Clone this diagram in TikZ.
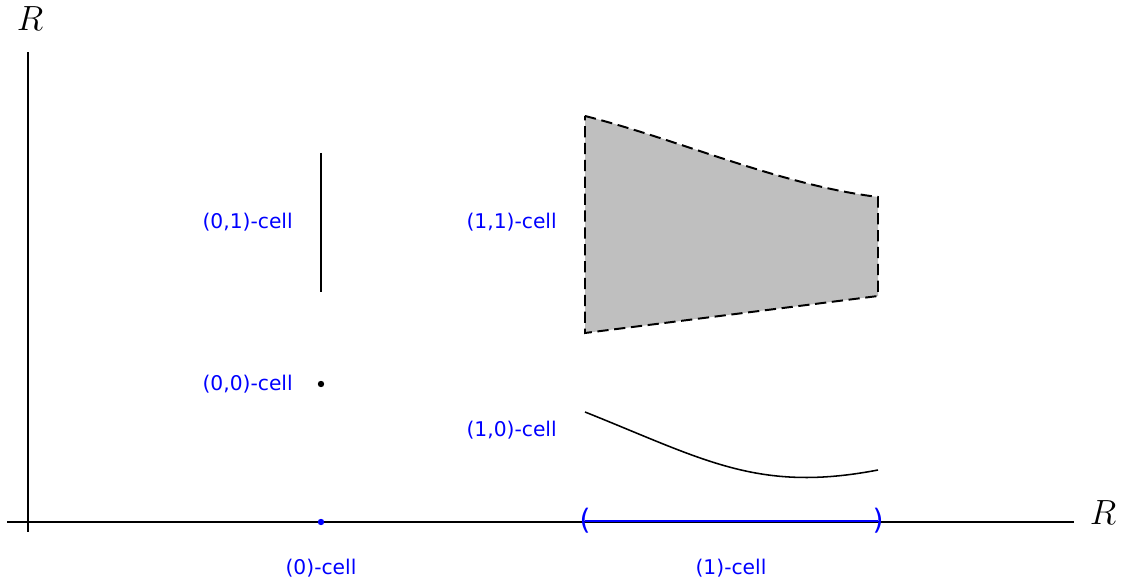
\documentclass[tikz,border=0pt]{standalone}
\usepackage{fontspec}
\newfontfamily\cellfont{DejaVu Sans}

\tikzset{
  celllabel/.style={font=\cellfont\fontsize{14.4}{17}\selectfont, text=blue, inner sep=0pt},
  axislabel/.style={font=\fontsize{23}{26}\selectfont, inner sep=0pt},
  bracket/.style={font=\cellfont\fontsize{20}{22}\selectfont, text=blue, inner sep=0pt},
  cellline/.style={line width=1.1pt},
  boundary/.style={line width=1.4pt, dash pattern={on 8pt off 4pt}}
}

\begin{document}
\begin{tikzpicture}[x=0.025cm, y=0.025cm]
  \useasboundingbox (0,0) rectangle (1129,584);

  % Axes
  \coordinate (xstart) at (7,62);
  \coordinate (xend) at (1074,62);
  \coordinate (ystart) at (28,52);
  \coordinate (yend) at (28,532);
  \draw[line width=0.9pt] (xstart) -- (xend);
  \draw[line width=0.9pt] (ystart) -- (yend);
  \node[axislabel] (Rx) at (1103,71) {$R$};
  \node[axislabel] (Ry) at (30,565) {$R$};

  % Cells of the line
  \fill[blue] (321,62) circle (3.2);
  \node[celllabel] (c0) at (321,16) {(0)-cell};
  \node[bracket] (lpar) at (585,63) {(};
  \node[bracket] (rpar) at (878,63) {)};
  \draw[blue, line width=1.2pt] (lpar.center) -- (rpar.center);
  \node[celllabel] (c1) at (731,16) {(1)-cell};

  % Cells over the (0)-cell
  \coordinate (vtop) at (321,431);
  \coordinate (vbot) at (321,292);
  \draw[cellline] (vtop) -- (vbot);
  \fill (321,200) circle (3.2);
  \node[celllabel, anchor=east] (c01) at (293,362) {(0,1)-cell};
  \node[celllabel, anchor=east] (c00) at (293,200) {(0,0)-cell};

  % Cells over the (1)-cell
  \coordinate (A) at (585,468);
  \coordinate (B) at (878,387);
  \coordinate (C) at (878,288);
  \coordinate (D) at (585,251);
  \fill[black!25] (A) .. controls (680,444) and (780,399) .. (B) -- (C) -- (D) -- cycle;
  \draw[boundary] (A) .. controls (680,444) and (780,399) .. (B) -- (C) -- (D) -- cycle;
  \coordinate (E) at (585,172);
  \coordinate (F) at (878,114);
  \draw[cellline] (E) .. controls (705,124) and (758,91) .. (F);
  \node[celllabel, anchor=east] (c11) at (557,362) {(1,1)-cell};
  \node[celllabel, anchor=east] (c10) at (557,154) {(1,0)-cell};
\end{tikzpicture}
\end{document}
